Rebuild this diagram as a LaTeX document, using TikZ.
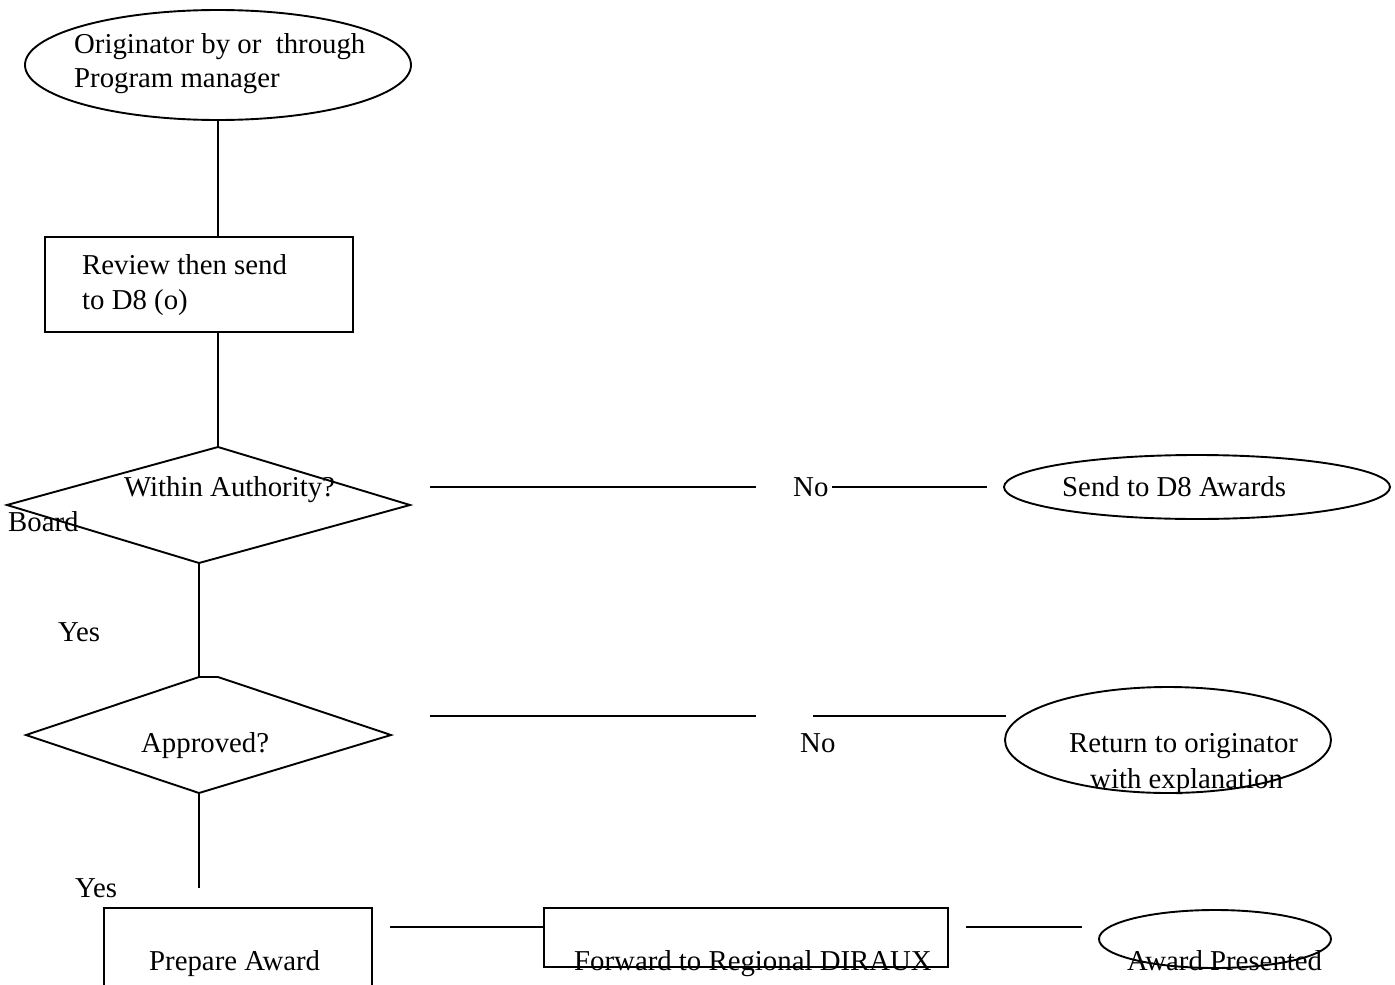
\documentclass[tikz,border=0pt]{standalone}
\usepackage{fontspec}
\setmainfont{Liberation Serif}
\begin{document}
\begin{tikzpicture}[x=1pt,y=-1pt,
  shp/.style={draw=black,line width=1.9pt},
  conn/.style={draw=black,line width=1.9pt},
  lbl/.style={anchor=base west,inner sep=0pt,font=\fontsize{28.8}{34}\selectfont}]
\useasboundingbox (0,0) rectangle (1395,985);
\fill[white] (0,0) rectangle (1395,985);
% shapes
\draw[shp] (218,65) ellipse [x radius=193,y radius=55];
\node[shp,rectangle,minimum width=308pt,minimum height=95pt,inner sep=0pt] (r1) at (199,284.5) {};
\draw[shp] (218,447) coordinate (d1t) -- (410,505) coordinate (d1r) -- (199,563) coordinate (d1b) -- (7,505) coordinate (d1l) -- cycle;
\draw[shp] (199,677) coordinate (d2t) -- (218,677) -- (391,735) -- (199,793) coordinate (d2b) -- (26,735) -- cycle;
\draw[shp] (1197,487) ellipse [x radius=193,y radius=32];
\draw[shp] (1168,740) ellipse [x radius=163,y radius=53];
\draw[shp] (104,990) -- (104,908) -- (372,908) -- (372,990);
\node[shp,rectangle,minimum width=404pt,minimum height=59pt,inner sep=0pt] (r3) at (746,937.5) {};
\draw[shp] (1215,939) ellipse [x radius=116,y radius=29];
% coordinates for connectors
\coordinate (e1b) at (218,120);
\coordinate (r1t) at (218,237);
\coordinate (r1b) at (218,332);
\coordinate (y2e) at (199,888);
\coordinate (a1) at (430,487); \coordinate (a2) at (756,487);
\coordinate (a3) at (832,487); \coordinate (a4) at (987,487);
\coordinate (b1) at (430,716); \coordinate (b2) at (756,716);
\coordinate (b3) at (813,716); \coordinate (b4) at (1006,716);
\coordinate (c1) at (390,927); \coordinate (c2) at (544,927);
\coordinate (c3) at (966,927); \coordinate (c4) at (1082,927);
% connectors
\draw[conn] (e1b) -- (r1t);
\draw[conn] (r1b) -- (d1t);
\draw[conn] (d1b) -- (d2t);
\draw[conn] (d2b) -- (y2e);
\draw[conn] (a1) -- (a2);
\draw[conn] (a3) -- (a4);
\draw[conn] (b1) -- (b2);
\draw[conn] (b3) -- (b4);
\draw[conn] (c1) -- (c2);
\draw[conn] (c3) -- (c4);
% labels
\node[lbl] (t1) at (74,53) {Originator by or\ \ through};
\node[lbl] (t2) at (74,87) {Program manager};
\node[lbl] (t3) at (82,274) {Review then send};
\node[lbl] (t4) at (82,309) {to D8 (o)};
\node[lbl] (t5) at (124,496) {Within Authority?};
\node[lbl] (t6) at (8,531) {Board};
\node[lbl] (t7) at (793,496) {No};
\node[lbl] (t8) at (1062,496) {Send to D8 Awards};
\node[lbl] (t9) at (58,641) {Yes};
\node[lbl] (t10) at (141,752) {Approved?};
\node[lbl] (t11) at (800,752) {No};
\node[lbl] (t12) at (1069,752) {Return to originator};
\node[lbl] (t13) at (1090,788) {with explanation};
\node[lbl] (t14) at (75,897) {Yes};
\node[lbl] (t15) at (149,970) {Prepare Award};
\node[lbl] (t16) at (574,970) {Forward to Regional DIRAUX};
\node[lbl] (t17) at (1127,970) {Award Presented};
\end{tikzpicture}
\end{document}
